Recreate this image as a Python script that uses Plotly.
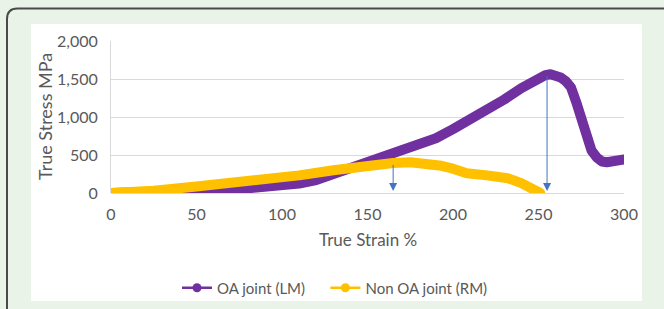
import plotly.graph_objects as go

# ---- data ----
oa_strain = [0, 10, 20, 30, 40, 50, 60, 70, 80, 90, 100, 110, 120, 130, 140, 150,
             160, 170, 180, 190, 200, 210, 220, 230, 240, 245, 250, 254, 257, 260,
             263, 266, 269, 272, 275, 278, 281, 284, 287, 290, 294, 297, 300]
oa_stress = [0, 0, 2, 5, 10, 18, 28, 40, 55, 72, 95, 125, 170, 245, 325, 405,
             480, 560, 630, 720, 840, 960, 1080, 1230, 1380, 1450, 1510, 1550, 1562, 1555,
             1520, 1470, 1390, 1200, 950, 730, 560, 470, 415, 405, 430, 445, 440]

non_strain = [0, 10, 25, 50, 75, 93, 110, 130, 150, 165, 175, 185, 192, 200, 208,
              220, 232, 240, 246, 251]
non_stress = [0, 5, 30, 85, 140, 188, 232, 300, 370, 395, 405, 395, 363, 320, 260,
              232, 195, 130, 60, 0]

arrow_x = [165, 255]
arrow_top = [390, 1560]
arrow_bottom = [25, 25]

x_ticks = [0, 50, 100, 150, 200, 250, 300]
y_ticks = [0, 500, 1000, 1500, 2000]

PURPLE = "#7030a0"
YELLOW = "#ffc000"
GREY = "#595959"
GRID = "#d9d9d9"
FONT = "Lato"
NB = "\u00a0"

W, H = 664, 309
L, R, T, B = 111, 40, 41, 116
PW, PH = W - L - R, H - T - B


def px(x):
    return (x - L) / PW


def py(y):
    return (H - B - y) / PH


fig = go.Figure()

fig.add_trace(go.Scatter(x=oa_strain, y=oa_stress, mode="lines",
                         line=dict(color=PURPLE, width=10),
                         cliponaxis=False, showlegend=False))
fig.add_trace(go.Scatter(x=non_strain, y=non_stress, mode="lines",
                         line=dict(color=YELLOW, width=10),
                         cliponaxis=False, showlegend=False))
# legend entries
fig.add_trace(go.Scatter(x=[None], y=[None], mode="lines+markers", name="OA joint (LM)" + NB * 4,
                         line=dict(color=PURPLE, width=2.5), marker=dict(color=PURPLE, size=9)))
fig.add_trace(go.Scatter(x=[None], y=[None], mode="lines+markers", name="Non OA joint (RM)",
                         line=dict(color=YELLOW, width=2.5), marker=dict(color=YELLOW, size=9)))

for xa, yt, yb in zip(arrow_x, arrow_top, arrow_bottom):
    fig.add_annotation(x=xa, y=yb, ax=xa, ay=yt, xref="x", yref="y", axref="x", ayref="y",
                       showarrow=True, arrowhead=2, arrowsize=1.6, arrowwidth=1,
                       arrowcolor="#4472c4", text="")

shapes = [
    dict(type="rect", xref="paper", yref="paper", layer="below",
         x0=px(31), x1=px(642), y0=py(301), y1=py(24),
         fillcolor="white", line=dict(width=0)),
    dict(type="path", xref="paper", yref="paper", layer="below",
         path=f"M {px(7)},{py(340)} L {px(7)},{py(19)} Q {px(7)},{py(8.5)} {px(17.5)},{py(8.5)} L {px(700)},{py(8.5)}",
         line=dict(color="#4a4a4a", width=2)),
]

fig.update_layout(
    width=W, height=H,
    margin=dict(l=L, r=R, t=T, b=B, autoexpand=False),
    paper_bgcolor="#e9f3e7",
    plot_bgcolor="white",
    shapes=shapes,
    font=dict(family=FONT, size=15, color=GREY),
    showlegend=True,
    legend=dict(orientation="h", x=px(335), y=py(288), xanchor="center", yanchor="middle",
                bgcolor="rgba(0,0,0,0)", font=dict(family=FONT, size=15, color=GREY),
                itemwidth=30, tracegroupgap=0),
    xaxis=dict(range=[0, 300], tickvals=x_ticks, ticktext=[str(v) for v in x_ticks],
               showgrid=False, zeroline=False, showline=False,
               ticks="outside", ticklen=6, tickcolor="rgba(0,0,0,0)",
               ticklabelstandoff=1, tickfont=dict(size=16, color=GREY, family=FONT)),
    yaxis=dict(range=[0, 2000], tickvals=y_ticks, ticktext=[f"{v:,}" for v in y_ticks],
               showgrid=True, gridcolor=GRID, gridwidth=1,
               zeroline=True, zerolinecolor=GRID, zerolinewidth=1,
               showline=True, linecolor=GRID, linewidth=1,
               ticks="outside", ticklen=6, tickcolor="rgba(0,0,0,0)",
               ticklabelstandoff=3, tickfont=dict(size=16, color=GREY, family=FONT)),
    annotations=list(fig.layout.annotations) + [
        dict(text="True Strain %", xref="paper", yref="paper", x=px(368), y=py(239),
             showarrow=False, xanchor="center", yanchor="middle",
             font=dict(family=FONT, size=17, color=GREY)),
        dict(text="True Stress MPa", xref="paper", yref="paper", x=px(45), y=py(117),
             showarrow=False, xanchor="center", yanchor="middle", textangle=-90,
             font=dict(family=FONT, size=18, color=GREY)),
    ],
)

fig.write_html(
    "out.html",
    config={"displayModeBar": False},
    post_script=(
        "document.body.style.margin='0';document.body.style.overflow='hidden';"
        "document.querySelectorAll('.scatterlayer path.js-line').forEach(function(p){"
        "p.style.strokeLinejoin='round';p.style.strokeLinecap='round';});"
    ),
)
